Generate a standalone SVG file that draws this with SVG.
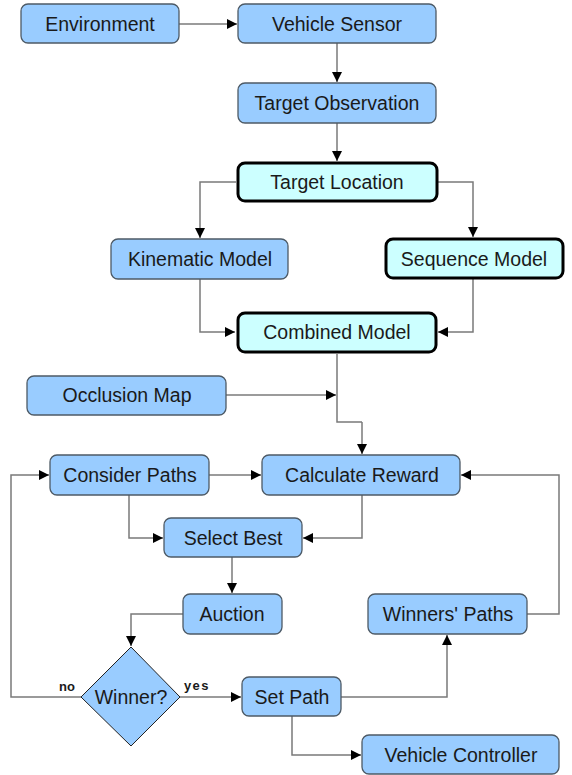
<svg xmlns="http://www.w3.org/2000/svg" width="572" height="775" viewBox="0 0 572 775">
<defs>
<marker id="ah" viewBox="0 0 10 10" refX="10" refY="5" markerWidth="10" markerHeight="10" markerUnits="userSpaceOnUse" orient="auto">
<path d="M0,0 L10,5 L0,10 z" fill="#000"/>
</marker>
<style>
.n{fill:#99ccff;stroke:#4d5a66;stroke-width:1.3}
.t{fill:#ccffff;stroke:#000;stroke-width:3}
.d{fill:#99ccff;stroke:#222;stroke-width:1}
text{font-family:"Liberation Sans",Arial,sans-serif;font-size:19.5px;fill:#1a1a1a;text-anchor:middle;dominant-baseline:central}
.lb{font-size:13px;font-weight:bold}
.c{fill:none;stroke:#7a7a7a;stroke-width:1.5}
.a{marker-end:url(#ah)}
</style>
</defs>
<rect width="572" height="775" fill="#fff"/>
<g id="connectors">
<path class="c a" d="M179,24 H237"/>
<path class="c a" d="M337,43 V82"/>
<path class="c a" d="M337,123 V161"/>
<path class="c a" d="M236,182 H200 V238"/>
<path class="c a" d="M438,182 H473 V237"/>
<path class="c a" d="M200,279 V332 H235"/>
<path class="c a" d="M473,279 V332 H438"/>
<path class="c" d="M337,354 V422 H362"/>
<path class="c a" d="M362,422 V454"/>
<path class="c a" d="M226,395 H336"/>
<path class="c a" d="M209,475 H261"/>
<path class="c a" d="M81,697 H11 V475 H49"/>
<path class="c a" d="M129,495 V538 H163"/>
<path class="c a" d="M362,495 V538 H303"/>
<path class="c a" d="M232,557 V593"/>
<path class="c a" d="M183,614 H131 V646"/>
<path class="c a" d="M179,697 H241"/>
<path class="c a" d="M341,697 H447 V635"/>
<path class="c a" d="M527,614 H559 V475 H461"/>
<path class="c a" d="M292,716 V755 H361"/>
<text class="lb" x="67" y="686">no</text>
<text class="lb" x="197" y="685" letter-spacing="1.5">yes</text>
</g>
<g id="environment"><rect class="n" x="21" y="4" width="158" height="39" rx="7"/><text x="100" y="24">Environment</text></g>
<g id="vehicle-sensor"><rect class="n" x="238" y="4" width="198" height="39" rx="7"/><text x="337" y="24">Vehicle Sensor</text></g>
<g id="target-observation"><rect class="n" x="238" y="83" width="198" height="40" rx="7"/><text x="337" y="103">Target Observation</text></g>
<g id="target-location"><rect class="t" x="238" y="163" width="199" height="38" rx="7"/><text x="337" y="182">Target Location</text></g>
<g id="kinematic-model"><rect class="n" x="111" y="239" width="177" height="40" rx="7"/><text x="200" y="259">Kinematic Model</text></g>
<g id="sequence-model"><rect class="t" x="386" y="239" width="177" height="39" rx="7"/><text x="474" y="259">Sequence Model</text></g>
<g id="combined-model"><rect class="t" x="238" y="313" width="198" height="39" rx="7"/><text x="337" y="332">Combined Model</text></g>
<g id="occlusion-map"><rect class="n" x="27" y="376" width="199" height="39" rx="7"/><text x="127" y="395">Occlusion Map</text></g>
<g id="consider-paths"><rect class="n" x="50" y="455" width="159" height="40" rx="7"/><text x="130" y="475">Consider Paths</text></g>
<g id="calculate-reward"><rect class="n" x="262" y="455" width="198" height="40" rx="7"/><text x="362" y="475">Calculate Reward</text></g>
<g id="select-best"><rect class="n" x="164" y="518" width="138" height="39" rx="7"/><text x="233" y="538">Select Best</text></g>
<g id="auction"><rect class="n" x="183" y="594" width="99" height="40" rx="7"/><text x="232" y="614">Auction</text></g>
<g id="winners-paths"><rect class="n" x="368" y="594" width="159" height="40" rx="7"/><text x="448" y="614">Winners' Paths</text></g>
<g id="winner"><path class="d" d="M131,647 L180,697 L131,746 L81,697 Z"/><text x="131" y="697">Winner?</text></g>
<g id="set-path"><rect class="n" x="242" y="677" width="99" height="39" rx="7"/><text x="292" y="697">Set Path</text></g>
<g id="vehicle-controller"><rect class="n" x="362" y="735" width="197" height="39" rx="7"/><text x="461" y="755">Vehicle Controller</text></g>
</svg>
